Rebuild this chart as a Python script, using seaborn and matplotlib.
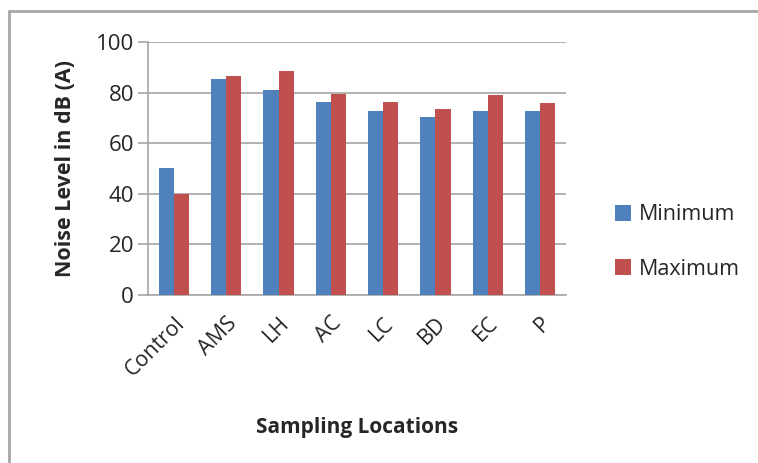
import matplotlib
matplotlib.use("Agg")
import matplotlib.pyplot as plt
import seaborn as sns
import pandas as pd
from matplotlib.lines import Line2D

# valores
locais = ["Control", "AMS", "LH", "AC", "LC", "BD", "EC", "P"]
minimo = [50.3, 85.4, 81.0, 76.4, 72.8, 70.3, 72.8, 72.8]
maximo = [40.0, 86.5, 88.5, 79.4, 76.4, 73.4, 78.9, 75.9]
yticks = [0, 20, 40, 60, 80, 100]

df = pd.DataFrame({
    "local": locais * 2,
    "nivel": minimo + maximo,
    "serie": ["Minimum"] * len(locais) + ["Maximum"] * len(locais),
})

sns.set_theme(style="white")
plt.rcParams["font.family"] = ["Open Sans", "DejaVu Sans"]

fig = plt.figure(figsize=(7.58, 4.63), dpi=100)
ax = fig.add_axes([0.195, 0.363, 0.552, 0.546])

sns.barplot(data=df, x="local", y="nivel", hue="serie",
            palette=["#4F81BD", "#C0504D"], width=0.58, gap=0,
            saturation=1, linewidth=0, ax=ax, zorder=3)

ax.set_ylim(0, 100)
ax.set_yticks(yticks)
ax.set_xlim(-0.5, len(locais) - 0.5)
ax.yaxis.grid(True, color="#A6A6A6", linewidth=1.2, zorder=0)
ax.set_axisbelow(True)

for lado in ["top", "right"]:
    ax.spines[lado].set_visible(False)
ax.spines["left"].set_color("#A6A6A6")
ax.spines["bottom"].set_color("#A6A6A6")
ax.spines["left"].set_linewidth(1.2)
ax.spines["bottom"].set_linewidth(1.2)
ax.tick_params(axis="y", left=True, length=7, width=1.2, color="#A6A6A6",
               labelsize=16, pad=3)
ax.tick_params(axis="x", bottom=False, labelsize=15.5, pad=7)
plt.setp(ax.get_xticklabels(), rotation=45, ha="right", rotation_mode="anchor")

ax.set_xlabel("Sampling Locations", fontsize=15, fontweight="bold", labelpad=26)
ax.set_ylabel("Noise Level in dB (A)", fontsize=15.5, fontweight="bold", labelpad=14)

leg = ax.legend(loc="center left", bbox_to_anchor=(1.07, 0.21), frameon=False,
                fontsize=15.5, handlelength=0.75, handleheight=0.75,
                handletextpad=0.35, labelspacing=1.55)

# moldura externa (cortada à direita e embaixo)
cinza = "#A6A6A6"
fig.lines.append(Line2D([0.012, 1.0], [0.976, 0.976], transform=fig.transFigure,
                        color=cinza, linewidth=2))
fig.lines.append(Line2D([0.012, 0.012], [0.0, 0.976], transform=fig.transFigure,
                        color=cinza, linewidth=2))

fig.savefig("out.png", dpi=100)
plt.close()
